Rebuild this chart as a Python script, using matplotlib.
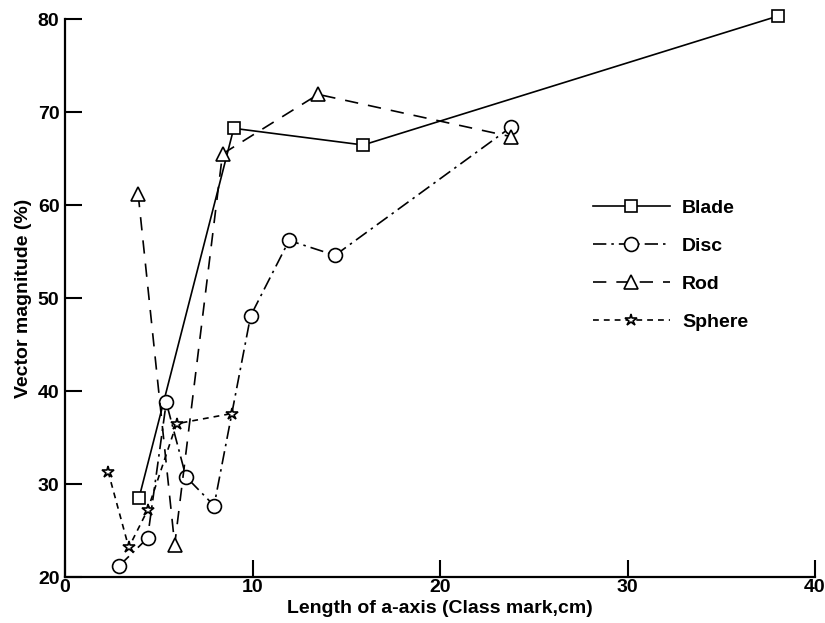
import matplotlib.pyplot as plt

plt.rcParams['font.family'] = ['Liberation Sans', 'DejaVu Sans']
plt.rcParams['font.weight'] = 'bold'

# class mark (cm) and vector magnitude (%) for each shape class
blade_x = [3.95, 9.0, 15.9, 38.0]
blade_y = [28.55, 68.25, 66.46, 80.3]

disc_x = [2.9, 4.4, 5.4, 6.45, 7.95, 9.9, 11.95, 14.4, 23.8]
disc_y = [21.25, 24.2, 38.8, 30.8, 27.7, 48.1, 56.2, 54.6, 68.4]

rod_x = [3.9, 5.85, 8.4, 13.5, 23.8]
rod_y = [61.2, 23.5, 65.5, 71.9, 67.35]

sphere_x = [2.3, 3.4, 4.4, 5.95, 8.9]
sphere_y = [31.35, 23.2, 27.2, 36.5, 37.6]

x_ticks = [0, 10, 20, 30, 40]
y_ticks = [20, 30, 40, 50, 60, 70, 80]

fig = plt.figure(figsize=(8.25, 6.23), dpi=100)
ax = fig.add_axes([0.0788, 0.0734, 0.9091, 0.8961])

common = dict(color='black', lw=1.2, markerfacecolor='white',
              markeredgecolor='black', markeredgewidth=1.2, clip_on=False)
ax.plot(blade_x, blade_y, linestyle='-', marker='s', markersize=9,
        label='Blade', **common)
ax.plot(disc_x, disc_y, linestyle=(0, (8, 3, 1.5, 3)), marker='o',
        markersize=10, label='Disc', **common)
ax.plot(rod_x, rod_y, linestyle=(0, (8, 6)), marker='^', markersize=10,
        label='Rod', **common)
ax.plot(sphere_x, sphere_y, linestyle=(0, (3.5, 3)), marker='*',
        markersize=9, label='Sphere', **common)

ax.set_xlim(0, 40)
ax.set_ylim(20, 80)
ax.set_xticks(x_ticks)
ax.set_yticks(y_ticks)
ax.spines['top'].set_visible(False)
ax.spines['right'].set_visible(False)
for s in ('left', 'bottom'):
    ax.spines[s].set_linewidth(1.6)
ax.tick_params(direction='in', length=12.5, width=1.5, labelsize=14)
ax.tick_params(axis='y', pad=4)
ax.tick_params(axis='x', pad=1)

ax.set_xlabel('Length of a-axis (Class mark,cm)', fontsize=14,
              fontweight='bold', labelpad=3)
ax.set_ylabel('Vector magnitude (%)', fontsize=14, fontweight='bold',
              labelpad=4)

leg = ax.legend(loc='upper left', bbox_to_anchor=(0.68, 0.708),
                frameon=False, handlelength=4.0, handletextpad=0.6,
                labelspacing=1.05, prop={'size': 14, 'weight': 'bold'})

fig.savefig('out.png', dpi=100)
